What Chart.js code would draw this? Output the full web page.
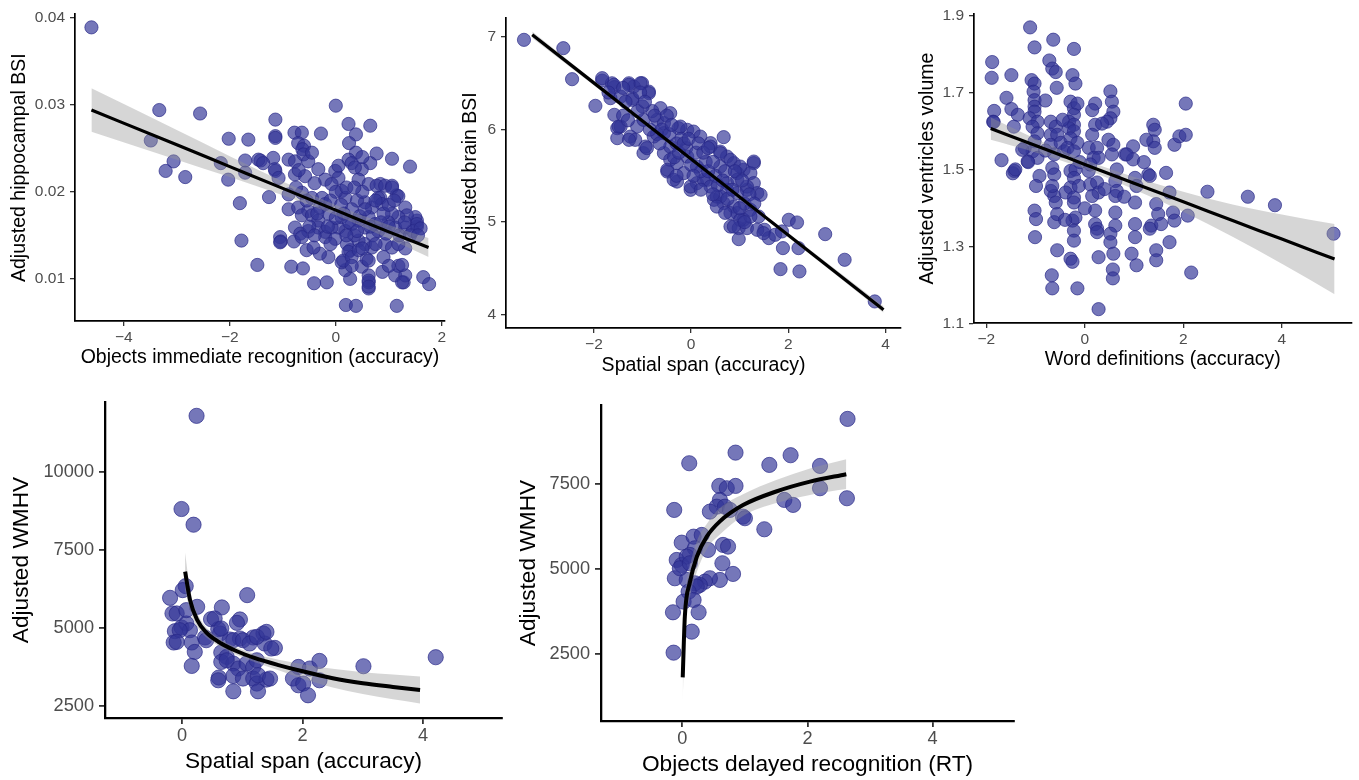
<!DOCTYPE html>
<html><head><meta charset="utf-8">
<script src="https://cdn.jsdelivr.net/npm/chart.js@4/dist/chart.umd.min.js"></script>
<style>
html,body{margin:0;padding:0;background:#fff;}
body{width:1359px;height:780px;position:relative;overflow:hidden;}
</style></head><body>
<script>
// ---------- DATA ----------
// Panel 1: Objects immediate recognition (accuracy) vs Adjusted hippocampal BSI
const hippoPoints = [[-4.61,0.0389],[-3.33,0.0294],[-2.56,0.0290],[-3.49,0.0259],[-3.06,0.0235],[-3.21,0.0224],[-2.84,0.0217],[-2.02,0.0261],[-1.65,0.0260],[-2.17,0.0233],[-2.03,0.0214],[-1.81,0.0187],[-1.78,0.0144],[-1.48,0.0116],[-1.71,0.0236],[-1.71,0.0222],[-1.42,0.0236],[-1.26,0.0194],[-1.14,0.0283],[-1.14,0.0264],[-1.14,0.0262],[-1.18,0.0239],[-1.14,0.0224],[-1.05,0.0148],[-1.04,0.0143],[-0.79,0.0143],[-0.84,0.0114],[-0.62,0.0112],[-0.41,0.0095],[-0.17,0.0096],[0.00,0.0299],[0.24,0.0278],[0.38,0.0266],[0.65,0.0276],[0.25,0.0256],[0.38,0.0245],[0.77,0.0244],[1.06,0.0238],[1.40,0.0229],[0.65,0.0233],[-0.28,0.0267],[-0.78,0.0268],[-0.64,0.0268],[-0.71,0.0256],[-0.60,0.0253],[0.19,0.0070],[0.38,0.0069],[1.15,0.0069],[0.62,0.0089],[0.62,0.0096],[0.62,0.0104],[0.88,0.0108],[1.12,0.0104],[1.28,0.0096],[1.31,0.0104],[1.18,0.0115],[1.65,0.0102],[1.76,0.0094],[0.27,0.0100],[0.18,0.0110],[0.49,0.0114],[0.11,0.0119],[-0.14,0.0125],[-0.30,0.0129],[-0.55,0.0133],[-0.42,0.0136],[0.27,0.0133],[1.31,0.0135],[1.53,0.0167],[1.53,0.0160],[1.31,0.0182],[1.15,0.0196],[1.06,0.0207],[0.84,0.0193],[0.84,0.0209],[-0.63,0.0249],[-0.61,0.0243],[-0.89,0.0237],[-0.77,0.0235],[-0.52,0.0235],[-1.46,0.0237],[-1.37,0.0233],[0.24,0.0237],[0.30,0.0233],[0.49,0.0226],[0.36,0.0228],[-1.15,0.0226],[-1.08,0.0216],[-0.77,0.0220],[-0.58,0.0218],[-0.33,0.0226],[-0.20,0.0214],[-0.01,0.0224],[0.05,0.0216],[-0.08,0.0209],[0.11,0.0201],[0.18,0.0193],[0.43,0.0214],[0.62,0.0209],[0.77,0.0207],[0.93,0.0207],[1.06,0.0205],[1.18,0.0195],[0.80,0.0193],[0.87,0.0186],[0.68,0.0182],[0.55,0.0188],[0.40,0.0190],[-0.89,0.0197],[-0.64,0.0199],[-0.45,0.0193],[-0.26,0.0193],[-0.20,0.0186],[-0.89,0.0180],[-0.71,0.0182],[-0.52,0.0178],[-0.64,0.0173],[-0.45,0.0173],[-0.33,0.0167],[-0.14,0.0175],[1.50,0.0171],[1.53,0.0163],[1.34,0.0173],[1.18,0.0171],[1.06,0.0175],[0.99,0.0165],[1.12,0.0159],[1.31,0.0159],[0.62,0.0171],[0.74,0.0163],[0.80,0.0155],[0.55,0.0159],[0.43,0.0167],[0.30,0.0163],[0.18,0.0155],[0.05,0.0159],[0.11,0.0171],[-0.77,0.0159],[-0.67,0.0152],[-0.52,0.0155],[-0.33,0.0159],[-0.20,0.0154],[-0.08,0.0159],[-0.64,0.0148],[-1.05,0.0142],[-0.20,0.0148],[-0.01,0.0146],[0.21,0.0140],[0.43,0.0144],[0.55,0.0140],[0.68,0.0136],[0.93,0.0140],[1.06,0.0136],[1.18,0.0140],[0.24,0.0131],[0.14,0.0121],[0.30,0.0125],[0.43,0.0133],[0.58,0.0123],[0.62,0.0121],[1.25,0.0116],[1.25,0.0096],[0.62,0.0098],[0.62,0.0091],[0.00,0.0200],[0.20,0.0205],[0.30,0.0180],[-0.10,0.0190],[0.50,0.0200],[0.70,0.0150],[0.90,0.0175],[1.00,0.0185],[0.35,0.0150],[-0.40,0.0210],[-0.50,0.0160],[0.10,0.0185],[0.45,0.0172],[0.75,0.0190],[1.20,0.0150],[1.45,0.0155],[1.60,0.0158],[0.95,0.0152],[-0.30,0.0182],[0.25,0.0165],[0.15,0.0175],[0.35,0.0205],[0.55,0.0180],[0.65,0.0160],[0.85,0.0165],[1.00,0.0160],[1.10,0.0190],[1.30,0.0165],[1.40,0.0150],[1.55,0.0150],[0.00,0.0170],[-0.15,0.0160],[-0.35,0.0175],[-0.55,0.0190],[-0.75,0.0205],[-0.40,0.0150],[0.40,0.0155],[0.75,0.0140],[0.20,0.0150],[0.50,0.0135],[0.90,0.0125],[1.00,0.0115],[0.30,0.0115],[-0.10,0.0140],[0.05,0.0230],[0.50,0.0240],[-0.45,0.0245],[-0.70,0.0225]];
const hippoFitX  = [-4.61, -3, -2, -1, 0, 1, 1.75];
const hippoFitY  = [0.0294, 0.0254, 0.0229, 0.0204, 0.0179, 0.0154, 0.0136];
const hippoBandHi = [0.0319, 0.0271, 0.0241, 0.0212, 0.0185, 0.0162, 0.0147];
const hippoBandLo = [0.0269, 0.0237, 0.0217, 0.0196, 0.0173, 0.0146, 0.0125];
const hippoXTicks = [-4, -2, 0, 2];
const hippoYTicks = [0.01, 0.02, 0.03, 0.04];

// Panel 2: Spatial span (accuracy) vs Adjusted brain BSI
const brainPoints = [[-3.44,6.969],[-2.63,6.879],[-2.45,6.544],[-1.97,6.256],[-1.83,6.529],[-1.63,6.50],[-1.58,6.458],[-1.66,6.339],[-1.58,6.159],[-1.52,6.015],[-1.52,5.907],[-1.45,6.032],[-1.28,6.50],[-1.21,6.339],[-1.01,6.50],[-0.87,6.41],[-1.18,6.464],[-1.25,5.924],[-1.15,5.889],[-0.98,5.745],[-0.94,5.816],[-0.63,6.231],[-0.43,6.177],[-0.70,6.105],[-0.56,6.069],[-0.49,5.546],[-0.29,5.438],[-0.56,5.745],[-0.43,5.673],[-0.26,6.015],[-0.08,5.997],[0.05,5.978],[0.19,5.924],[-0.01,5.349],[0.12,5.421],[0.33,5.457],[0.47,5.241],[0.53,5.276],[0.67,5.918],[0.40,5.853],[0.60,5.762],[0.74,5.708],[0.60,5.600],[0.88,5.637],[0.95,5.529],[1.08,5.565],[1.29,5.637],[1.22,5.529],[0.74,5.421],[0.95,5.313],[1.15,5.349],[1.29,5.421],[1.36,5.313],[1.43,5.295],[0.67,5.205],[0.88,5.168],[0.95,5.097],[1.08,5.025],[1.22,5.133],[1.39,5.060],[0.81,4.952],[0.98,4.935],[1.15,4.935],[0.98,4.816],[1.51,4.917],[1.60,4.827],[1.73,4.863],[1.87,4.899],[2.01,5.025],[2.18,4.996],[1.89,4.719],[2.21,4.719],[1.84,4.492],[2.23,4.467],[2.76,4.87],[3.16,4.593],[3.78,4.143],[-1.83,6.555],[-1.59,6.483],[-1.28,6.483],[-1.04,6.501],[-0.87,6.393],[-1.21,6.321],[-1.45,6.356],[-1.49,6.032],[-1.28,5.889],[-1.11,6.032],[-0.98,6.105],[-0.91,5.799],[-0.77,5.924],[-0.56,5.961],[-0.43,5.816],[-0.22,6.032],[0.40,5.816],[0.60,5.745],[-0.49,5.565],[-0.29,5.637],[-0.08,5.708],[-0.36,5.457],[-0.15,5.529],[0.12,5.600],[-0.01,5.384],[0.26,5.457],[0.40,5.384],[0.81,5.673],[1.01,5.600],[1.29,5.654],[0.95,5.457],[0.74,5.349],[1.15,5.384],[0.60,5.276],[0.53,5.168],[0.81,5.097],[1.01,5.025],[1.22,5.060],[1.36,4.917],[0.88,4.952],[1.49,4.881],[-0.30,5.85],[-0.10,5.80],[0.10,5.75],[0.30,5.65],[0.20,5.55],[-0.70,5.95],[-0.80,6.20],[-1.00,6.25],[0.50,5.50],[0.70,5.55],[-0.20,5.90],[0.00,5.62],[-1.35,6.30],[-1.40,6.15],[-1.30,6.10],[-1.10,6.20],[-1.05,6.40],[-0.95,6.30],[-0.85,6.00],[-0.75,6.15],[-0.65,5.85],[-0.60,6.00],[-0.50,6.15],[-0.45,5.95],[-0.40,6.05],[-0.35,5.70],[-0.25,5.75],[-0.15,5.85],[-0.05,5.90],[0.05,5.50],[0.15,5.85],[0.25,5.75],[0.35,5.55],[0.35,5.80],[0.45,5.65],[0.55,5.40],[0.65,5.45],[0.75,5.25],[0.85,5.35],[0.90,5.55],[1.05,5.45],[1.10,5.20],[1.20,5.30],[1.30,5.20],[1.00,5.15],[0.70,5.10],[1.10,5.00],[-1.70,6.40],[-1.40,6.45],[-0.30,5.50],[0.45,5.30],[0.20,5.35]];
const brainFitX  = [-3.27, 0, 3.96];
const brainFitY  = [7.025, 5.681, 4.054];
const brainBandHi = [7.06, 5.695, 4.09];
const brainBandLo = [6.99, 5.667, 4.02];
const brainXTicks = [-2, 0, 2, 4];
const brainYTicks = [4, 5, 6, 7];

// Panel 3: Word definitions (accuracy) vs Adjusted ventricles volume
const ventPoints = [[-1.11,1.870],[-0.64,1.838],[-1.02,1.818],[-0.22,1.814],[-1.88,1.780],[-0.72,1.784],[-0.66,1.763],[-0.59,1.754],[-1.89,1.739],[-1.49,1.746],[-1.08,1.733],[-1.02,1.724],[-1.04,1.703],[-1.02,1.681],[-0.57,1.713],[-0.25,1.746],[-0.19,1.724],[0.52,1.704],[0.55,1.677],[0.58,1.651],[0.52,1.634],[0.45,1.625],[-1.59,1.687],[-1.84,1.653],[-1.49,1.658],[-1.36,1.643],[-1.02,1.664],[-1.02,1.651],[-1.12,1.634],[-0.96,1.625],[-1.06,1.612],[-0.29,1.677],[-0.22,1.660],[-0.15,1.672],[-0.22,1.643],[-0.32,1.625],[-0.22,1.617],[0.21,1.672],[0.15,1.655],[0.21,1.617],[0.15,1.591],[-1.86,1.625],[-1.44,1.612],[-0.69,1.625],[-0.59,1.612],[-0.69,1.591],[-0.56,1.591],[-0.69,1.565],[-0.49,1.570],[-0.62,1.540],[-0.42,1.548],[-0.32,1.608],[-0.22,1.600],[-0.29,1.582],[-0.15,1.570],[-0.35,1.557],[-0.22,1.548],[-0.96,1.595],[-1.02,1.574],[-1.06,1.548],[-1.22,1.557],[-0.96,1.531],[-1.16,1.522],[-1.69,1.525],[-1.43,1.497],[-1.46,1.491],[0.48,1.578],[0.58,1.565],[0.55,1.540],[0.82,1.540],[0.98,1.561],[0.98,1.527],[0.08,1.557],[0.25,1.557],[0.18,1.531],[0.28,1.531],[0.11,1.514],[1.39,1.617],[1.42,1.604],[1.39,1.574],[1.25,1.578],[1.42,1.557],[2.05,1.672],[1.82,1.565],[1.92,1.587],[2.05,1.591],[1.65,1.492],[1.72,1.441],[-0.92,1.484],[-0.99,1.458],[-0.66,1.505],[-0.62,1.488],[-0.69,1.445],[-0.62,1.432],[-0.59,1.415],[-0.66,1.458],[-0.29,1.497],[-0.19,1.501],[-0.22,1.479],[-0.29,1.454],[-0.12,1.458],[-0.39,1.441],[-0.22,1.428],[-0.22,1.415],[0.08,1.497],[0.11,1.462],[0.25,1.467],[0.28,1.441],[0.15,1.432],[0.65,1.501],[0.62,1.471],[0.65,1.445],[0.62,1.432],[1.02,1.479],[1.05,1.458],[1.29,1.488],[1.32,1.484],[1.02,1.415],[1.45,1.411],[1.49,1.385],[1.35,1.355],[1.32,1.347],[1.55,1.359],[1.79,1.389],[1.82,1.368],[2.09,1.381],[1.72,1.312],[1.45,1.291],[1.45,1.265],[-1.02,1.394],[-0.99,1.372],[-1.01,1.325],[-0.62,1.364],[-0.56,1.385],[-0.25,1.368],[-0.19,1.376],[-0.22,1.342],[-0.22,1.316],[0.21,1.394],[0.21,1.359],[0.25,1.347],[0.25,1.338],[0.62,1.389],[0.62,1.355],[0.52,1.334],[0.52,1.312],[0.58,1.282],[1.02,1.359],[1.02,1.325],[0.95,1.282],[1.05,1.252],[-0.56,1.291],[-0.29,1.269],[-0.25,1.261],[0.28,1.273],[0.57,1.241],[0.57,1.218],[-0.67,1.226],[-0.66,1.192],[-0.15,1.192],[0.28,1.138],[2.49,1.443],[3.31,1.430],[3.86,1.408],[5.05,1.334],[2.16,1.233],[0.85,1.540],[-1.85,1.624],[-1.41,1.501],[-1.27,1.552],[-1.15,1.520],[-0.45,1.630],[-0.80,1.550],[-0.10,1.520],[0.40,1.450],[0.00,1.400],[-0.40,1.370],[0.80,1.430],[1.20,1.520],[-0.80,1.680],[0.35,1.620]];
const ventFitX  = [-1.91, -1, 0, 1, 2, 3, 4, 5.07];
const ventFitY  = [1.607, 1.563, 1.514, 1.465, 1.417, 1.368, 1.320, 1.268];
const ventBandHi = [1.636, 1.581, 1.526, 1.481, 1.443, 1.410, 1.384, 1.359];
const ventBandLo = [1.578, 1.545, 1.502, 1.449, 1.391, 1.326, 1.256, 1.177];
const ventXTicks = [-2, 0, 2, 4];
const ventYTicks = [1.1, 1.3, 1.5, 1.7, 1.9];

// Panel 4: Spatial span (accuracy) vs Adjusted WMHV
const wmhvSpanPoints = [[0.24,11796],[-0.01,8807],[0.19,8303],[0.06,6333],[0.01,6205],[-0.20,5957],[0.25,5668],[0.66,5649],[1.08,6044],[-0.16,5456],[0.48,5273],[0.96,5263],[0.91,5154],[-0.12,4887],[-0.01,5006],[0.07,5135],[0.13,4919],[0.60,4952],[0.63,4813],[-0.14,4524],[0.16,4524],[0.21,4222],[0.38,4685],[0.16,3772],[0.79,4621],[0.96,4653],[1.18,4685],[1.35,4813],[1.37,4492],[1.54,4351],[0.65,4203],[0.74,4062],[0.65,3901],[0.85,3849],[0.93,3689],[1.07,3849],[1.18,3740],[1.24,3955],[0.61,3400],[0.60,3313],[0.85,3451],[1.01,3368],[1.18,3368],[1.24,3207],[1.40,3335],[0.85,2959],[1.26,2959],[1.93,3740],[2.12,3689],[2.28,3933],[1.84,3368],[1.93,3152],[2.01,3207],[2.09,2831],[2.28,3313],[3.01,3763],[4.21,4052],[-0.09,5456],[0.07,5562],[-0.04,4919],[-0.09,4543],[0.54,5295],[0.65,4974],[0.85,4598],[1.01,4598],[1.12,4492],[1.24,4704],[1.40,4865],[1.48,4331],[0.74,3955],[1.26,3474],[1.46,3368],[0.40,4598]];
const wmhvSpanFitX = [0.05, 0.13, 0.25, 0.4, 0.6, 0.9, 1.2, 1.6, 2.0, 2.5, 3.0, 3.5, 3.95];
const wmhvSpanFitY = [6800, 5900, 5250, 4850, 4550, 4250, 4030, 3800, 3600, 3380, 3220, 3100, 3000];
const wmhvSpanBandHi = [7400, 6250, 5470, 5010, 4680, 4370, 4160, 3970, 3830, 3680, 3570, 3500, 3430];
const wmhvSpanBandLo = [6200, 5550, 5030, 4690, 4420, 4130, 3900, 3630, 3370, 3080, 2870, 2700, 2570];
const wmhvSpanXTicks = [0, 2, 4];
const wmhvSpanYTicks = [2500, 5000, 7500, 10000];

// Panel 5: Objects delayed recognition (RT) vs Adjusted WMHV
const wmhvRtPoints = [[2.64,9419],[0.11,8113],[0.85,8425],[1.39,8063],[1.73,8349],[2.20,8033],[2.20,7376],[2.63,7081],[1.63,7031],[1.77,6884],[-0.13,6736],[0.59,7444],[0.71,7376],[0.85,7444],[0.60,7031],[0.55,6833],[0.44,6686],[0.68,6833],[0.76,6736],[0.97,6539],[1.00,6492],[1.31,6167],[-0.01,5772],[0.18,5949],[0.31,5999],[0.41,5557],[0.20,5607],[0.12,5410],[-0.09,5262],[-0.01,5115],[0.07,5360],[0.65,5705],[0.73,5655],[0.64,5165],[0.81,4850],[0.60,4673],[0.44,4723],[0.36,4623],[0.28,4525],[-0.12,4723],[0.07,4673],[0.20,4575],[0.23,4475],[0.10,4328],[0.02,4033],[0.18,4083],[0.26,3720],[0.15,3149],[-0.15,3720],[-0.14,2530],[-0.04,5018],[0.12,5165]];
const wmhvRtFitX = [0.006, 0.04, 0.12, 0.23, 0.39, 0.6, 0.97, 1.5, 2.04, 2.62];
const wmhvRtFitY = [1800, 3600, 4600, 5350, 5950, 6400, 6880, 7280, 7570, 7790];
const wmhvRtBandHi = [2580, 4150, 5050, 5800, 6320, 6790, 7200, 7620, 7960, 8230];
const wmhvRtBandLo = [1020, 3050, 4150, 4900, 5580, 6010, 6560, 6940, 7180, 7350];
const wmhvRtXTicks = [0, 2, 4];
const wmhvRtYTicks = [2500, 5000, 7500];

// ---------- STYLE / LAYOUT ----------
const FONT = '"Liberation Sans", Arial, Helvetica, sans-serif';
const PT_FILL = 'rgba(52,54,152,0.68)';
const PT_EDGE = 'rgba(38,38,135,0.85)';
const BAND = 'rgba(153,153,153,0.40)';
const fmt = v => (v < 0 ? '\u2212' + Math.abs(v) : String(v));
const xy = (xs, ys) => xs.map((x, i) => ({x: x, y: ys[i]}));

function makeChart(c) {
  const cv = document.createElement('canvas');
  cv.width = c.w; cv.height = c.h;
  cv.style.cssText = 'position:absolute;left:' + c.left + 'px;top:' + c.top + 'px;width:' + c.w + 'px;height:' + c.h + 'px';
  document.body.appendChild(cv);
  const big = c.big;
  const tickFont = {family: FONT, size: big ? 18.2 : 15.5};
  const titleFont = {family: FONT, size: big ? 22.7 : 19.5};
  const mkScale = (min, max, ticks, title, isX) => ({
    type: 'linear', min: min, max: max,
    afterBuildTicks: ax => { ax.ticks = ticks.map(v => ({value: v})); },
    afterFit: ax => { if (isX) ax.height = c.xAxisH; else ax.width = c.yAxisW; },
    grid: {drawOnChartArea: false, drawTicks: true, tickLength: big ? 6 : 5, color: '#333333', lineWidth: big ? 1.8 : 1.3},
    border: {display: true, color: '#000000', width: big ? 2.3 : 1.7},
    ticks: {color: '#4d4d4d', font: tickFont, padding: isX ? (big ? 1 : 2) : 5, maxRotation: 0, autoSkip: false, callback: v => fmt(v)},
    title: {display: true, text: title, color: '#000000', font: titleFont, padding: 0}
  });
  return new Chart(cv, {
    type: 'scatter',
    data: {datasets: [
      {data: c.points.map(p => ({x: p[0], y: p[1]})), pointRadius: big ? 7.6 : 6.6, pointHoverRadius: big ? 7.6 : 6.6,
       backgroundColor: PT_FILL, borderColor: PT_EDGE, borderWidth: 0.8, order: 10, clip: false},
      {type: 'line', data: xy(c.fitX, c.bandLo), borderColor: 'rgba(0,0,0,0)', borderWidth: 1, pointRadius: 0,
       fill: false, order: 6, cubicInterpolationMode: 'monotone'},
      {type: 'line', data: xy(c.fitX, c.bandHi), borderColor: 'rgba(0,0,0,0)', borderWidth: 1, pointRadius: 0,
       fill: 1, backgroundColor: BAND, order: 5, cubicInterpolationMode: 'monotone'},
      {type: 'line', data: xy(c.fitX, c.fitY), borderColor: '#000000', borderWidth: big ? 4 : 3.2, pointRadius: 0,
       fill: false, order: 1, cubicInterpolationMode: 'monotone', borderCapStyle: 'butt'}
    ]},
    options: {
      responsive: false, animation: false, devicePixelRatio: 1,
      layout: {padding: {left: 0, top: c.padTop, right: c.padRight, bottom: 0}},
      plugins: {legend: {display: false}, tooltip: {enabled: false}},
      scales: {
        x: mkScale(c.xmin, c.xmax, c.xTicks, c.xTitle, true),
        y: mkScale(c.ymin, c.ymax, c.yTicks, c.yTitle, false)
      }
    }
  });
}

makeChart({left: 8, top: 0, w: 462, h: 369, padTop: 12, padRight: 25, xAxisH: 48, yAxisW: 67, big: false,
  xmin: -4.92, xmax: 2.06, ymin: 0.00516, ymax: 0.0404,
  points: hippoPoints, fitX: hippoFitX, fitY: hippoFitY, bandHi: hippoBandHi, bandLo: hippoBandLo,
  xTicks: hippoXTicks, yTicks: hippoYTicks,
  xTitle: 'Objects immediate recognition (accuracy)', yTitle: 'Adjusted hippocampal BSI'});

makeChart({left: 459, top: 0, w: 466, h: 377, padTop: 18, padRight: 24, xAxisH: 49, yAxisW: 47, big: false,
  xmin: -3.81, xmax: 4.32, ymin: 3.856, ymax: 7.205,
  points: brainPoints, fitX: brainFitX, fitY: brainFitY, bandHi: brainBandHi, bandLo: brainBandLo,
  xTicks: brainXTicks, yTicks: brainYTicks,
  xTitle: 'Spatial span (accuracy)', yTitle: 'Adjusted brain BSI'});

makeChart({left: 916, top: 0, w: 443, h: 371, padTop: 12, padRight: 3, xAxisH: 48, yAxisW: 58, big: false,
  xmin: -2.249, xmax: 5.416, ymin: 1.102, ymax: 1.904,
  points: ventPoints, fitX: ventFitX, fitY: ventFitY, bandHi: ventBandHi, bandLo: ventBandLo,
  xTicks: ventXTicks, yTicks: ventYTicks,
  xTitle: 'Word definitions (accuracy)', yTitle: 'Adjusted ventricles volume'});

makeChart({left: 8, top: 380, w: 522, h: 395, padTop: 22, padRight: 28, xAxisH: 57, yAxisW: 97, big: true,
  xmin: -1.28, xmax: 5.31, ymin: 2102, ymax: 12240,
  points: wmhvSpanPoints, fitX: wmhvSpanFitX, fitY: wmhvSpanFitY, bandHi: wmhvSpanBandHi, bandLo: wmhvSpanBandLo,
  xTicks: wmhvSpanXTicks, yTicks: wmhvSpanYTicks,
  xTitle: 'Spatial span (accuracy)', yTitle: 'Adjusted WMHV'});

makeChart({left: 515, top: 380, w: 525, h: 398, padTop: 25, padRight: 26, xAxisH: 57, yAxisW: 86, big: true,
  xmin: -1.30, xmax: 5.30, ymin: 516, ymax: 9829,
  points: wmhvRtPoints, fitX: wmhvRtFitX, fitY: wmhvRtFitY, bandHi: wmhvRtBandHi, bandLo: wmhvRtBandLo,
  xTicks: wmhvRtXTicks, yTicks: wmhvRtYTicks,
  xTitle: 'Objects delayed recognition (RT)', yTitle: 'Adjusted WMHV'});
</script>
</body></html>
